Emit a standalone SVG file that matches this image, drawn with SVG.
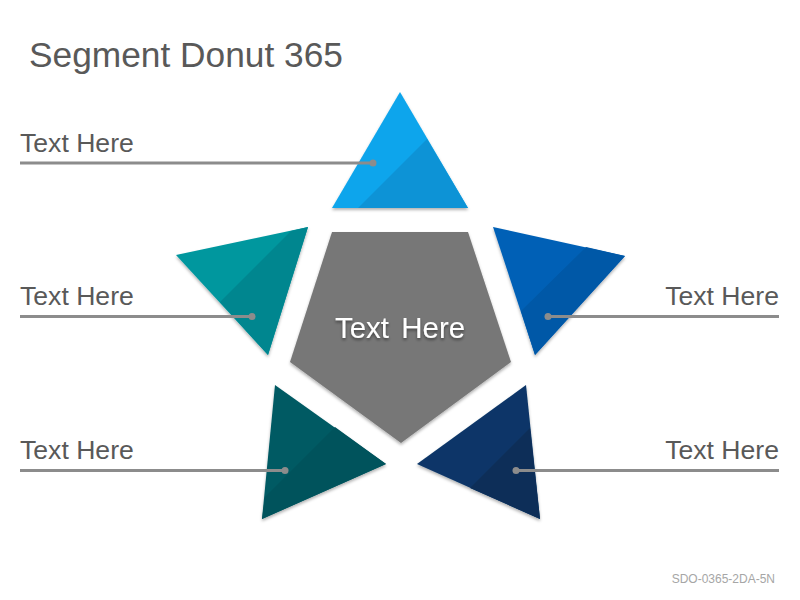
<svg xmlns="http://www.w3.org/2000/svg" width="800" height="600" viewBox="0 0 800 600">
  <defs>
    <filter id="sh" x="-20%" y="-20%" width="140%" height="140%">
      <feDropShadow dx="0" dy="2" stdDeviation="1.5" flood-color="#000" flood-opacity="0.3"/>
    </filter>
    <filter id="tsh" x="-10%" y="-30%" width="120%" height="160%">
      <feDropShadow dx="0" dy="2" stdDeviation="1.5" flood-color="#000" flood-opacity="0.45"/>
    </filter>
  </defs>
  <style>
    .lbl { font-family: "Liberation Sans", Arial, sans-serif; font-size: 26.6px; fill: #595959; }
    .ln { stroke: #8c8c8c; stroke-width: 3; fill: none; }
    .dot { fill: #8c8c8c; }
  </style>
  <rect width="800" height="600" fill="#ffffff"/>
  <text x="29" y="67" font-family="Liberation Sans, Arial, sans-serif" font-size="35.3" fill="#595959">Segment Donut 365</text>

  <g id="center">
    <polygon points="332,232 468,232 511,362 401,443 290,362" fill="#777777" filter="url(#sh)"/>
    <text x="400" y="338" text-anchor="middle" font-family="Liberation Sans, Arial, sans-serif" font-size="29.5" word-spacing="4" fill="#ffffff" filter="url(#tsh)">Text Here</text>
  </g>

  <g id="seg-top" filter="url(#sh)">
    <polygon points="400,92 468,208 332,208" fill="#0BA5EC"/>
    <polygon points="358,208 427,139 468,208" fill="#0A93D6"/>
  </g>
  <g id="seg-left" filter="url(#sh)">
    <polygon points="176,255 308,227 268,355" fill="#03979E"/>
    <polygon points="220,302 291,231 308,227 268,355" fill="#02868F"/>
  </g>
  <g id="seg-right" filter="url(#sh)">
    <polygon points="493,227 625,256 535,355" fill="#0461B6"/>
    <polygon points="521,311 586,247 625,256 535,355" fill="#0458A7"/>
  </g>
  <g id="seg-bottom-left" filter="url(#sh)">
    <polygon points="275,385 386,464 262,519" fill="#055A63"/>
    <polygon points="265,497 335,427 386,464 262,519" fill="#04535C"/>
  </g>
  <g id="seg-bottom-right" filter="url(#sh)">
    <polygon points="526,385 540,519 417,464" fill="#0A3667"/>
    <polygon points="470,488 530,428 540,519" fill="#082E59"/>
  </g>

  <g id="connectors">
    <line class="ln" x1="20" y1="163" x2="373" y2="163"/>
    <circle class="dot" cx="373" cy="163" r="3.5"/>
    <line class="ln" x1="20" y1="316.5" x2="252" y2="316.5"/>
    <circle class="dot" cx="252" cy="316.5" r="3.5"/>
    <line class="ln" x1="20" y1="470.5" x2="285" y2="470.5"/>
    <circle class="dot" cx="285" cy="470.5" r="3.5"/>
    <line class="ln" x1="548" y1="316.5" x2="779" y2="316.5"/>
    <circle class="dot" cx="548" cy="316.5" r="3.5"/>
    <line class="ln" x1="516" y1="470.5" x2="779" y2="470.5"/>
    <circle class="dot" cx="516" cy="470.5" r="3.5"/>
  </g>

  <g id="labels">
    <text class="lbl" x="20" y="152">Text Here</text>
    <text class="lbl" x="20" y="305">Text Here</text>
    <text class="lbl" x="20" y="459">Text Here</text>
    <text class="lbl" x="779" y="305" text-anchor="end">Text Here</text>
    <text class="lbl" x="779" y="459" text-anchor="end">Text Here</text>
  </g>

  <text x="775" y="583" text-anchor="end" font-family="Liberation Sans, Arial, sans-serif" font-size="12" fill="#a6a6a6">SDO-0365-2DA-5N</text>
</svg>
